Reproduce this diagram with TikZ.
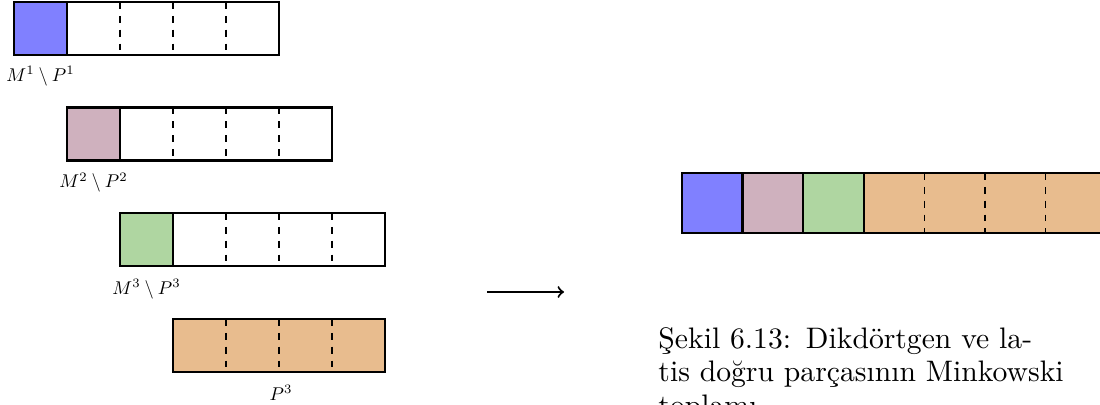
\documentclass[tikz,border=0pt]{standalone}
\usepackage{fontspec}
\usepackage{amssymb, amstext, amsmath}
\usepackage{graphicx}
\usepackage{tikz}
\usepackage{color}
\newfontfamily\capfont{lmroman10-regular.otf}
\newcommand{\setlabel}[1]{\scalebox{0.8}{$#1$}}
\definecolor{mblue}{RGB}{128,128,255}
\definecolor{mpink}{RGB}{207,177,190}
\definecolor{mgreen}{RGB}{175,214,161}
\definecolor{morange}{RGB}{232,188,142}

\begin{document}
\begin{tikzpicture}[x=0.4333pt,y=0.4333pt,yscale=-1,
  frame/.style={line width=1.1pt},
  sep/.style={dashed,line width=0.6pt},
  lbl/.style={anchor=base,inner sep=0pt,font=\fontsize{10}{12}\selectfont}]
\useasboundingbox (0,0) rectangle (1100,405);
\clip (0,0) rectangle (1100,405);
% M^1 \ P^1
\draw [frame,fill=mblue] (14,2) rectangle (67,55);
\foreach \x in {120,173,226} \draw [sep] (\x,2) -- (\x,55);
\draw [frame] (14,2) rectangle (279,55);
\node [lbl] (l1) at (40.5,81.7) {\setlabel{M^{1}\setminus P^{1}}};
% M^2 \ P^2
\draw [frame,fill=mpink] (67,107.5) rectangle (120,160.5);
\foreach \x in {173,226,279} \draw [sep] (\x,107.5) -- (\x,160.5);
\draw [frame] (67,107.5) rectangle (332,160.5);
\node [lbl] (l2) at (93.5,188) {\setlabel{M^{2}\setminus P^{2}}};
% M^3 \ P^3
\draw [frame,fill=mgreen] (120,213) rectangle (173,266);
\foreach \x in {226,279,332} \draw [sep] (\x,213) -- (\x,266);
\draw [frame] (120,213) rectangle (385,266);
\node [lbl] (l3) at (146.5,294) {\setlabel{M^{3}\setminus P^{3}}};
% P^3
\draw [frame,fill=morange] (173,319) rectangle (385,372);
\foreach \x in {226,279,332} \draw [sep] (\x,319) -- (\x,372);
\draw [frame] (173,319) rectangle (385,372);
\node [lbl] (l4) at (281,400) {\setlabel{P^{3}}};
% arrow
\coordinate (a0) at (487,292);
\coordinate (a1) at (564,292);
\draw [line width=0.9pt,->] (a0) -- (a1);
% Minkowski sum
\draw [frame,fill=mblue] (682,173) rectangle (742.6,233);
\draw [frame,fill=mpink] (742.6,173) rectangle (803.2,233);
\draw [frame,fill=mgreen] (803.2,173) rectangle (863.8,233);
\draw [frame,fill=morange] (863.8,173) rectangle (1106.2,233);
\foreach \x in {924.4,985,1045.6} \draw [sep] (\x,173) -- (\x,233);
% caption
\node [anchor=north west,inner sep=0pt,text width=177pt,align=left,
  font=\capfont\fontsize{12.85}{14.45}\selectfont] (cap) at (658,327)
  {\makebox[177pt][s]{Şekil 6.13: Dikdörtgen ve la-}\\
   \makebox[177pt][s]{tis doğru parçasının Minkowski}\\
   toplamı};
\end{tikzpicture}
\end{document}
